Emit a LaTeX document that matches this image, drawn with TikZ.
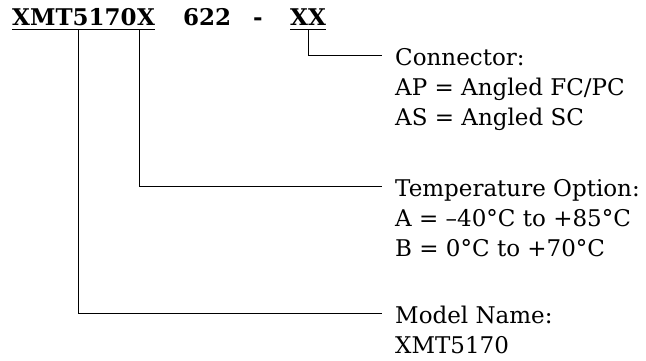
\documentclass[tikz,border=0pt]{standalone}
\usepackage{fontspec}
\setmainfont{DejaVu Serif}
\usetikzlibrary{positioning}

\begin{document}
\begin{tikzpicture}[x=1pt, y=1pt, node distance=30pt,
  code node/.style={inner sep=0pt, text depth=4pt, font=\fontsize{23}{30}\selectfont\bfseries},
  label node/.style={inner xsep=13pt, inner ysep=0pt, text height=20pt, text depth=0pt, font=\fontsize{23}{30}\selectfont},
  lead/.style={line width=0.9pt}]

\useasboundingbox (0,0) rectangle (646,-360);

% part number
\node[code node, anchor=base west] (1) at (12,-25) {XMT5170};
\node[code node, anchor=base west] (2) at (1.base east) {X};
\node[code node, anchor=base west] (3) at (183,-25) {622};
\node[code node, anchor=base west] (4) at (253,-25) {-};
\node[code node, anchor=base west] (5) at (290,-25) {XX};
\draw[lead] (1.south west) -- (2.south east);
\draw[lead] (5.south west) -- (5.south east);

% option labels
\node[label node, anchor=base west] (6) at (382,-65) {Connector:};
\node[label node, below=of 6.west, anchor=west] (7) {AP = Angled FC/PC};
\node[label node, below=of 7.west, anchor=west] (8) {AS = Angled SC};

\node[label node, anchor=base west] (9) at (382,-196) {Temperature Option:};
\node[label node, below=of 9.west, anchor=west] (10) {A = --40\textdegree C to +85\textdegree C};
\node[label node, below=of 10.west, anchor=west] (11) {B = 0\textdegree C to +70\textdegree C};

\node[label node, anchor=base west] (12) at (382,-323) {Model Name:};
\node[label node, below=of 12.west, anchor=west] (13) {XMT5170};

% leads
\draw[lead] (5.south) |- (6.west);
\draw[lead] ([xshift=-7pt]2.south) |- (9.west);
\draw[lead] ([xshift=4pt]1.south) |- (12.west);

\end{tikzpicture}
\end{document}
